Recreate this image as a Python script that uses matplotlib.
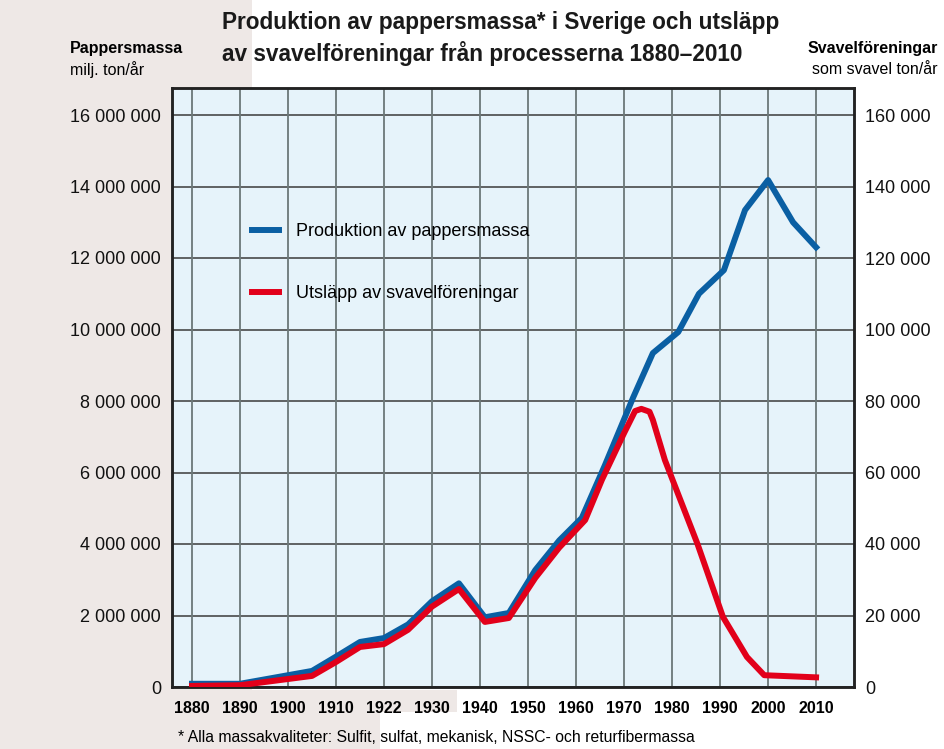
import matplotlib
matplotlib.use("Agg")
import matplotlib.pyplot as plt
from matplotlib.patches import Polygon
from matplotlib.ticker import FuncFormatter

# Production of pulp (ton/year), left axis
prod_years = [1880, 1890, 1905, 1910, 1915, 1920, 1925, 1930, 1935.6, 1941, 1946, 1951.5,
              1956.5, 1961.2, 1966, 1971.9, 1976, 1981.3, 1985.6, 1990.8, 1995.2, 2000,
              2005.2, 2010]
prod_values = [0.09e6, 0.09e6, 0.45e6, 0.85e6, 1.26e6, 1.37e6, 1.75e6, 2.4e6, 2.9e6, 1.95e6,
               2.07e6, 3.27e6, 4.1e6, 4.73e6, 6.2e6, 8.1e6, 9.34e6, 9.93e6, 11.0e6, 11.66e6,
               13.34e6, 14.18e6, 13.0e6, 12.3e6]

# Sulphur emissions (ton S/year), right axis
sulf_years = [1880, 1890, 1905, 1910, 1915, 1920, 1925, 1930, 1935.6, 1941, 1946, 1951.5,
              1956.5, 1961.9, 1965.4, 1970, 1972.3, 1973.6, 1975.3, 1976, 1978.5, 1985.3,
              1990.6, 1995.6, 1999.2, 2010]
sulf_values = [300, 500, 3100, 7000, 11200, 12000, 16000, 22500, 27400, 18200, 19300, 30500,
               39000, 46700, 58000, 71000, 77200, 77800, 77000, 74700, 63500, 40000,
               19600, 8400, 3300, 2700]

tick_years = [1880, 1890, 1900, 1910, 1920, 1930, 1940, 1950, 1960, 1970, 1980, 1990, 2000, 2010]
tick_labels = ["1880", "1890", "1900", "1910", "1922", "1930", "1940", "1950", "1960",
               "1970", "1980", "1990", "2000", "2010"]
left_ticks = [0, 2e6, 4e6, 6e6, 8e6, 10e6, 12e6, 14e6, 16e6]

BLUE = "#0a5fa3"
RED = "#e2001a"
FONT = ["Liberation Sans", "DejaVu Sans"]

W, H = 945, 749
fig = plt.figure(figsize=(W / 100, H / 100), dpi=100)
fig.patch.set_facecolor("white")


def fy(py):
    return 1 - py / H


# greyish background on the left
bg = Polygon([(0, 1), (252 / W, 1), (252 / W, fy(690)), (457 / W, fy(690)),
              (457 / W, fy(712)), (380 / W, fy(712)), (380 / W, 0), (0, 0)],
             closed=True, transform=fig.transFigure, facecolor="#eee8e6", edgecolor="none",
             zorder=-5)
fig.patches.append(bg)

ax = fig.add_axes([172 / W, fy(687), (854 - 172) / W, (687 - 88) / H])
ax.set_facecolor("#e6f3fa")
ax.set_xlim(1875.83, 2017.9)
ymax = (687 - 88) / 35.75 * 1e6
ax.set_ylim(0, ymax)

for y in left_ticks:
    ax.axhline(y, color="#3a3a3a", lw=1.1, zorder=1)
for x in tick_years:
    ax.axvline(x, color="#6c7878", lw=1.3, zorder=1)

ax.plot(prod_years, prod_values, color=BLUE, lw=4.3, zorder=3,
        label="Produktion av pappersmassa")
ax.plot([], [], color=RED, lw=4.3, label="Utsläpp av svavelföreningar")
ax2 = ax.twinx()
ax2.set_ylim(0, ymax / 100)
ax2.plot(sulf_years, sulf_values, color=RED, lw=4.3, zorder=4)

ax.set_xticks(tick_years)
ax.set_xticklabels(tick_labels, family=FONT, fontweight="bold", fontsize=11.5)
ax.set_yticks(left_ticks)
fmt = FuncFormatter(lambda v, p: "{:,}".format(int(round(v))).replace(",", " "))
ax.yaxis.set_major_formatter(fmt)
ax2.set_yticks([v / 100 for v in left_ticks])
ax2.yaxis.set_major_formatter(fmt)
ax.tick_params(axis="both", length=0, pad=8)
ax.tick_params(axis="x", pad=10)
ax2.tick_params(axis="y", length=0, pad=8)
for lab in ax.get_yticklabels() + ax2.get_yticklabels():
    lab.set_fontsize(13)
    lab.set_family(FONT)
    lab.set_color("#111111")

for a in (ax, ax2):
    for s in a.spines.values():
        s.set_linewidth(1.8)
        s.set_color("#222222")

leg = ax.legend(loc="upper left", bbox_to_anchor=(0.094, 0.802), frameon=False,
                handlelength=1.45, handletextpad=0.95, labelspacing=2.5,
                prop={"family": FONT, "size": 13})

fig.text(222 / W, fy(22), "Produktion av pappersmassa* i Sverige och utsläpp",
         family=FONT, fontweight="bold", fontsize=16.3, va="center", ha="left", color="#1a1a1a")
fig.text(222 / W, fy(53), "av svavelföreningar från processerna 1880–2010",
         family=FONT, fontweight="bold", fontsize=16.3, va="center", ha="left", color="#1a1a1a")
fig.text(70 / W, fy(49), "Pappersmassa", family=FONT, fontweight="bold", fontsize=11.5,
         va="center", ha="left")
fig.text(70 / W, fy(70), "milj. ton/år", family=FONT, fontsize=11.5, va="center", ha="left")
fig.text(938 / W, fy(49), "Svavelföreningar", family=FONT, fontweight="bold",
         fontsize=11.5, va="center", ha="right")
fig.text(938 / W, fy(70), "som svavel ton/år", family=FONT, fontsize=11.5,
         va="center", ha="right")
fig.text(178 / W, fy(738),
         "* Alla massakvaliteter: Sulfit, sulfat, mekanisk, NSSC- och returfibermassa",
         family=FONT, fontsize=11.3, va="center", ha="left")

fig.savefig("out.png", dpi=100)
